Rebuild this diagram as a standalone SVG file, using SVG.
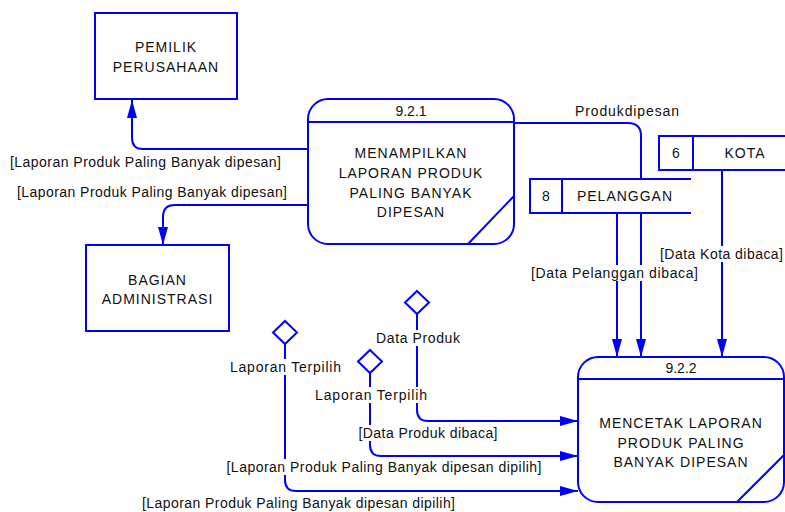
<svg xmlns="http://www.w3.org/2000/svg" width="785" height="512" viewBox="0 0 785 512">
<style>
.ln{fill:none;stroke:#0000ff;stroke-width:2}
.bx{fill:#fff;stroke:#0000ff;stroke-width:2}
.t{font-family:"Liberation Sans",Arial,sans-serif;font-size:14px;fill:#111;text-anchor:middle}
.bt{letter-spacing:1px}
.bg{fill:#fff}
</style>
<defs>
<marker id="ar" markerUnits="userSpaceOnUse" markerWidth="18" markerHeight="10" refX="18" refY="5" orient="auto">
<path d="M0,0 L18,5 L0,10 z" fill="#0000ff"/>
</marker>
</defs>

<g id="connectors">
<path class="ln" d="M308,149 H143 Q132,149 132,138 V100" marker-end="url(#ar)"/>
<path class="ln" d="M308,205 H175 Q163,205 163,217 V245" marker-end="url(#ar)"/>
<path class="ln" d="M514,123 H628 Q641,123 641,136 V179"/>
<path class="ln" d="M617,213 V357" marker-end="url(#ar)"/>
<path class="ln" d="M641,213 V357" marker-end="url(#ar)"/>
<path class="ln" d="M722,170 V357" marker-end="url(#ar)"/>
<path class="ln" d="M417,314 V410 Q417,421 428,421 H578" marker-end="url(#ar)"/>
<path class="ln" d="M370,373 V445 Q370,456 381,456 H578" marker-end="url(#ar)"/>
<path class="ln" d="M285,344 V480 Q285,491 296,491 H578" marker-end="url(#ar)"/>
</g>

<g id="labels">
<rect class="bg" x="9" y="154" width="273" height="16"/>
<text class="t" x="145.5" y="167" textLength="271" lengthAdjust="spacing">[Laporan Produk Paling Banyak dipesan]</text>
<rect class="bg" x="16" y="184" width="272" height="16"/>
<text class="t" x="152" y="197" textLength="270" lengthAdjust="spacing">[Laporan Produk Paling Banyak dipesan]</text>
<rect class="bg" x="574" y="103" width="106" height="16"/>
<text class="t" x="627" y="116" textLength="104" lengthAdjust="spacing">Produkdipesan</text>
<rect class="bg" x="659" y="246" width="125" height="16"/>
<text class="t" x="721.5" y="259" textLength="123" lengthAdjust="spacing">[Data Kota dibaca]</text>
<rect class="bg" x="530" y="265" width="169" height="16"/>
<text class="t" x="614.5" y="278" textLength="167" lengthAdjust="spacing">[Data Pelanggan dibaca]</text>
<rect class="bg" x="375" y="330" width="86" height="16"/>
<text class="t" x="418" y="343" textLength="84" lengthAdjust="spacing">Data Produk</text>
<rect class="bg" x="229" y="359" width="113" height="16"/>
<text class="t" x="285.5" y="372" textLength="111" lengthAdjust="spacing">Laporan Terpilih</text>
<rect class="bg" x="314" y="387" width="114" height="16"/>
<text class="t" x="371" y="400" textLength="112" lengthAdjust="spacing">Laporan Terpilih</text>
<rect class="bg" x="358" y="425" width="141" height="16"/>
<text class="t" x="428" y="438" textLength="139" lengthAdjust="spacing">[Data Produk dibaca]</text>
<rect class="bg" x="226" y="459" width="317" height="16"/>
<text class="t" x="384" y="472" textLength="315" lengthAdjust="spacing">[Laporan Produk Paling Banyak dipesan dipilih]</text>
<rect class="bg" x="141" y="495" width="315" height="16"/>
<text class="t" x="298.5" y="508" textLength="313" lengthAdjust="spacing">[Laporan Produk Paling Banyak dipesan dipilih]</text>
</g>

<g id="pemilik">
<rect class="bx" x="95" y="13" width="142" height="86"/>
<text class="t bt" x="166" y="52">PEMILIK</text>
<text class="t bt" x="166" y="72">PERUSAHAAN</text>
</g>

<g id="bagian">
<rect class="bx" x="86" y="245" width="143" height="86"/>
<text class="t bt" x="157.5" y="285">BAGIAN</text>
<text class="t bt" x="157.5" y="304">ADMINISTRASI</text>
</g>

<g id="p921">
<rect class="bx" x="308" y="99" width="206" height="145" rx="20"/>
<line class="ln" x1="308" y1="122" x2="514" y2="122"/>
<line class="ln" x1="514" y1="196" x2="468" y2="244"/>
<text class="t" x="411" y="116">9.2.1</text>
<text class="t bt" x="411" y="158">MENAMPILKAN</text>
<text class="t bt" x="411" y="178">LAPORAN PRODUK</text>
<text class="t bt" x="411" y="198">PALING BANYAK</text>
<text class="t bt" x="411" y="217">DIPESAN</text>
</g>

<g id="p922">
<rect class="bx" x="578" y="357" width="206" height="145" rx="20"/>
<line class="ln" x1="578" y1="379" x2="784" y2="379"/>
<line class="ln" x1="784" y1="455" x2="737" y2="502"/>
<text class="t" x="681" y="373">9.2.2</text>
<text class="t bt" x="681" y="428">MENCETAK LAPORAN</text>
<text class="t bt" x="681" y="448">PRODUK PALING</text>
<text class="t bt" x="681" y="467">BANYAK DIPESAN</text>
</g>

<g id="pelanggan">
<rect x="530" y="179" width="161" height="34" fill="#fff"/>
<path class="ln" d="M691,179 H530 V213 H691 M562,179 V213"/>
<text class="t" x="546" y="201">8</text>
<text class="t bt" x="625" y="201">PELANGGAN</text>
</g>

<g id="kota">
<rect x="659" y="136" width="126" height="34" fill="#fff"/>
<path class="ln" d="M785,136 H659 V170 H785 M693,136 V170"/>
<text class="t" x="676" y="158">6</text>
<text class="t bt" x="745" y="158">KOTA</text>
</g>

<g id="d1"><polygon class="bx" points="285,321 297,332.5 285,344 273,332.5"/></g>
<g id="d2"><polygon class="bx" points="370,350 382,361.5 370,373 358,361.5"/></g>
<g id="d3"><polygon class="bx" points="417,291 429,302.5 417,314 405,302.5"/></g>
</svg>
